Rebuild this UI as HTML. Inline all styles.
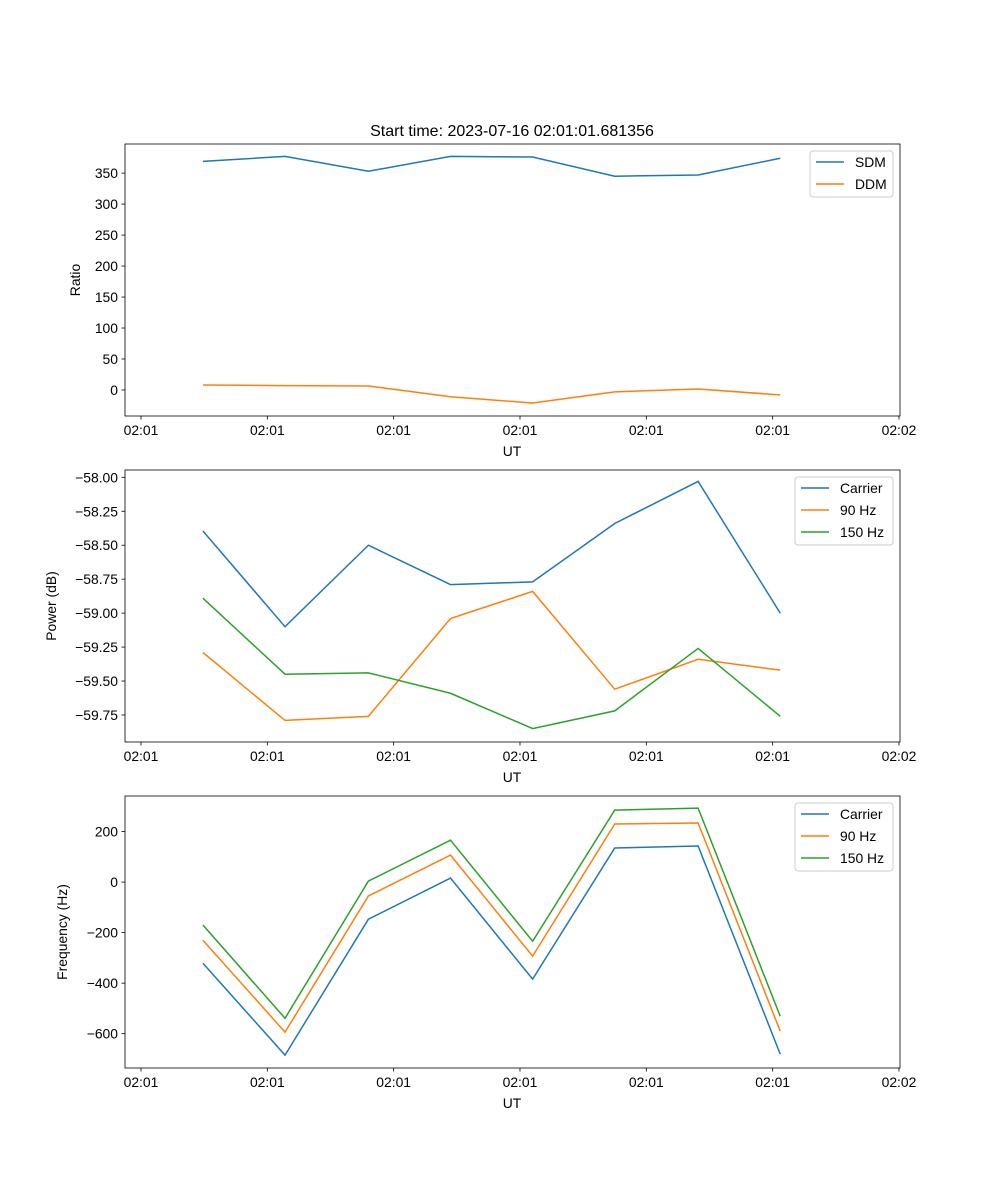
<!DOCTYPE html>
<html><head><meta charset="utf-8"><style>body{margin:0;background:#fff}svg{display:block;font-family:"Liberation Sans","DejaVu Sans",sans-serif}</style></head>
<body>
<svg id="fig" width="1000" height="1200">
<text x="512" y="136" font-size="16" text-anchor="middle">Start time: 2023-07-16 02:01:01.681356</text>
</svg>
<script>
const xTickLabels = ["02:01","02:01","02:01","02:01","02:01","02:01","02:02"];
const xTicks = [0,1,2,3,4,5,6];
const times = [0.49,1.14,1.80,2.45,3.10,3.75,4.41,5.06];
const sdm = [369,377,353,377,376,345,347,374];
const ddm = [8,7,6.5,-11,-21,-3,1.6,-8];
const powCarrier = [-58.395,-59.10,-58.50,-58.79,-58.77,-58.34,-58.03,-59.00];
const pow90 = [-59.29,-59.79,-59.76,-59.04,-58.84,-59.56,-59.34,-59.42];
const pow150 = [-58.89,-59.45,-59.44,-59.59,-59.85,-59.72,-59.26,-59.76];
const frqCarrier = [-321,-685,-147,16,-384,135,143,-681];
const frq90 = [-230,-594,-55,107,-293,230,234,-590];
const frq150 = [-170,-539,4,166,-234,285,293,-531];
const ticks1 = [0,50,100,150,200,250,300,350];
const ticks2 = [-58.00,-58.25,-58.50,-58.75,-59.00,-59.25,-59.50,-59.75];
const ticks3 = [-600,-400,-200,0,200];
const NS="http://www.w3.org/2000/svg", svg=document.getElementById('fig');
const L=125,R=900;
const xs=t=>141+t*126.33;
function el(tag,attrs,parent){const e=document.createElementNS(NS,tag);for(const k in attrs)e.setAttribute(k,attrs[k]);(parent||svg).appendChild(e);return e;}
function panel(name,top,bot,ymin,ymax,yticks,fmt,ylabel,series,legend){
  const g=el('g',{});
  
  
  const ys=v=>bot-(v-ymin)/(ymax-ymin)*(bot-top);
  series.forEach(s=>{
    const p=el('polyline',{points:s.d.map((v,i)=>xs(times[i])+','+ys(v)).join(' '),fill:'none',stroke:s.c,'stroke-width':1.5},g);
    
    
  });
  el('rect',{x:L,y:top,width:R-L,height:bot-top,fill:'none',stroke:'#000','stroke-width':0.8},g);
  xTicks.forEach((t,i)=>{
    el('line',{x1:xs(t),x2:xs(t),y1:bot,y2:bot+3.5,stroke:'#000','stroke-width':0.8},g);
    const tx=el('text',{x:xs(t),y:bot+19,'font-size':13.9,'text-anchor':'middle'},g);tx.textContent=xTickLabels[i];
    
    
  });
  yticks.forEach(v=>{
    el('line',{x1:L-3.5,x2:L,y1:ys(v),y2:ys(v),stroke:'#000','stroke-width':0.8},g);
    const tx=el('text',{x:L-7,y:ys(v)+5,'font-size':13.9,'text-anchor':'end'},g);tx.textContent=fmt(v);
    
    
  });
  const xl=el('text',{x:512,y:bot+40,'font-size':13.9,'text-anchor':'middle'},g);xl.textContent='UT';
  
  
  const yl=el('text',{x:0,y:0,'font-size':13.9,'text-anchor':'middle',transform:`translate(${legend.yx},${(top+bot)/2}) rotate(-90)`},g);yl.textContent=ylabel;
  
  
  const lg=el('g',{},g);
  
  
  const lh=series.length*22+2;
  el('rect',{x:legend.x,y:top+7,width:893-legend.x,height:lh,fill:'#fff',stroke:'#ccc',rx:3},lg);
  series.forEach((s,i)=>{
    const yy=top+18+i*22;
    el('line',{x1:legend.x+6,x2:legend.x+34,y1:yy,y2:yy,stroke:s.c,'stroke-width':1.5},lg);
    const t=el('text',{x:legend.x+45,y:yy+5,'font-size':13.9},lg);t.textContent=s.n;
    
    
  });
}
const B='#1f77b4',O='#ff7f0e',G='#2ca02c';
panel('ratio',144,416,-42,397,ticks1,v=>v<0?'\u2212'+(-v):String(v),'Ratio',[{n:'SDM',d:sdm,c:B},{n:'DDM',d:ddm,c:O}],{x:810,yx:80});
panel('power',470,742,-59.949,-57.946,ticks2,v=>'\u2212'+(-v).toFixed(2),'Power (dB)',[{n:'Carrier',d:powCarrier,c:B},{n:'90 Hz',d:pow90,c:O},{n:'150 Hz',d:pow150,c:G}],{x:795,yx:56});
panel('frequency',796,1068,-736,341,ticks3,v=>v<0?'\u2212'+(-v):String(v),'Frequency (Hz)',[{n:'Carrier',d:frqCarrier,c:B},{n:'90 Hz',d:frq90,c:O},{n:'150 Hz',d:frq150,c:G}],{x:795,yx:67});
</script>
</body></html>
